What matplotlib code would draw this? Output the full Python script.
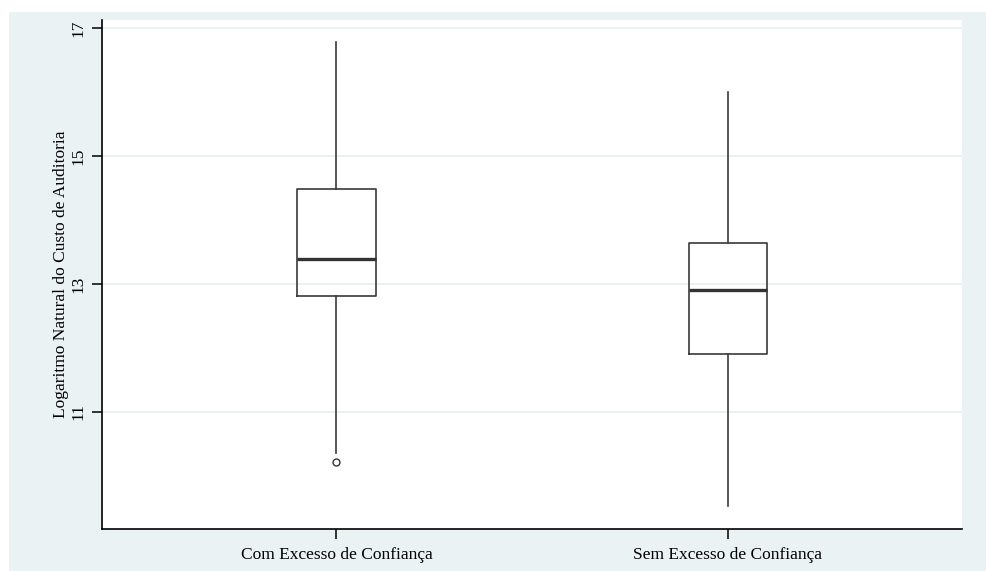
import matplotlib
matplotlib.use("Agg")
import matplotlib.pyplot as plt
from matplotlib.patches import Rectangle

categories = ["Com Excesso de Confiança", "Sem Excesso de Confiança"]
whisker_low = [10.35, 9.52]
q1 = [12.81, 11.90]
median = [13.39, 12.90]
q3 = [14.48, 13.64]
whisker_high = [16.78, 16.00]
outliers = [[10.21], []]
yticks = [11, 13, 15, 17]

plt.rcParams['font.family'] = ['Liberation Serif', 'DejaVu Serif']

fig = plt.figure(figsize=(9.87, 5.71), dpi=100)
fig.patch.set_facecolor('white')
bg = Rectangle((9 / 987, 0), 1 - 9 / 987, (571 - 12) / 571, transform=fig.transFigure,
               facecolor='#EAF2F3', edgecolor='none', zorder=-10)
fig.patches.append(bg)

ax = fig.add_axes([101.7 / 987, (571 - 529.3) / 571, (962.5 - 101.7) / 987, (529.3 - 20) / 571])
ax.set_facecolor('white')

stats = []
for i in range(len(categories)):
    stats.append(dict(med=median[i], q1=q1[i], q3=q3[i], whislo=whisker_low[i],
                      whishi=whisker_high[i], fliers=outliers[i], label=categories[i]))

ax.bxp(stats, positions=[1, 2], widths=0.2, showcaps=False, patch_artist=False,
       boxprops=dict(color='#3a3a3a', linewidth=1.2),
       whiskerprops=dict(color='#3a3a3a', linewidth=1.2),
       medianprops=dict(color='#333333', linewidth=2.4),
       flierprops=dict(marker='o', markersize=5, markerfacecolor='none',
                       markeredgecolor='#333333', markeredgewidth=1.0),
       zorder=3)

fs = 12.5
ax.set_xlim(0.4, 2.6)
ax.set_ylim(9.16, 17.13)
ax.set_yticks(yticks)
ax.set_yticklabels([str(t) for t in yticks], rotation=90, va='center', fontsize=fs)
ax.set_xticks([1, 2])
ax.set_xticklabels(categories, fontsize=fs)
ax.tick_params(axis='both', direction='out', length=7, width=1.1, color='black')
ax.tick_params(axis='x', pad=6)
ax.tick_params(axis='y', pad=4)
ax.yaxis.grid(True, color='#E6EFF1', linewidth=1.2, zorder=0)
ax.set_axisbelow(True)

for s in ['top', 'right']:
    ax.spines[s].set_visible(False)
for s in ['left', 'bottom']:
    ax.spines[s].set_color('black')
    ax.spines[s].set_linewidth(1.2)

ax.set_ylabel("Logaritmo Natural do Custo de Auditoria", fontsize=fs)
ax.yaxis.set_label_coords(-0.038, 0.5)

fig.savefig("out.png", dpi=100, facecolor=fig.get_facecolor())
